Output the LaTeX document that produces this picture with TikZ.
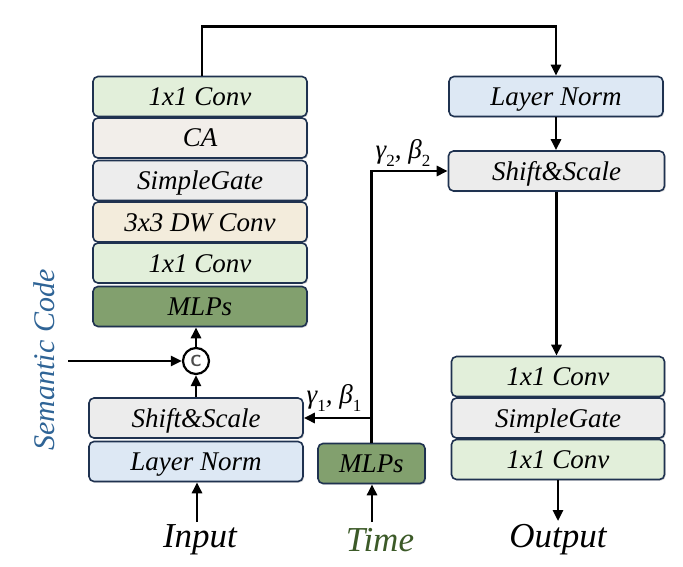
\documentclass[tikz,border=0pt]{standalone}
\usepackage{fontspec}
\setmainfont{Liberation Serif}
\usetikzlibrary{arrows.meta,shadows}
\definecolor{bordc}{HTML}{1F3250}
\definecolor{cgreen}{HTML}{E2EFDA}
\definecolor{cca}{HTML}{F2EEEA}
\definecolor{cgate}{HTML}{EDEDED}
\definecolor{cdw}{HTML}{F3ECDC}
\definecolor{cmlp}{HTML}{82A06E}
\definecolor{cln}{HTML}{DDE8F4}
\definecolor{css}{HTML}{ECECEC}
\definecolor{semblue}{HTML}{2F6496}
\definecolor{timegreen}{HTML}{3C5A28}
\newcommand{\gsub}[1]{\raisebox{-0.28em}{\fontsize{17}{17}\selectfont\upshape #1}}
\begin{document}
\begin{tikzpicture}[x=1pt,y=-1pt,
  blk/.style={draw=bordc, line width=1.6pt, rounded corners=5pt, minimum width=214pt, minimum height=40pt, inner sep=0pt,
    text height=18pt, text depth=0pt,
    font=\fontsize{27}{30}\selectfont\itshape,
    drop shadow={shadow xshift=1.2pt,shadow yshift=-1.2pt,opacity=0.25,fill=black!60}},
  conn/.style={line width=2.6pt, -{Triangle[length=11pt,width=10pt]}},
  biglbl/.style={font=\fontsize{35}{38}\selectfont\itshape},
  gblbl/.style={font=\fontsize{27}{29}\selectfont\itshape, inner sep=0pt}]
\useasboundingbox (0,0) rectangle (683,567);

% left stack
\node[blk, fill=cgreen] (c1) at (200,96.5) {1x1 Conv};
\node[blk, fill=cca] (ca) at (200,138) {CA};
\node[blk, fill=cgate] (sg1) at (200,180.5) {SimpleGate};
\node[blk, fill=cdw] (dw) at (200,222) {3x3 DW Conv};
\node[blk, fill=cgreen] (c2) at (200,263) {1x1 Conv};
\node[blk, fill=cmlp] (mlp) at (200,306.5) {MLPs};

\node[blk, fill=css] (ss1) at (196,418) {Shift\&Scale};
\node[blk, fill=cln] (ln1) at (196,461.5) {Layer Norm};

\node[blk, fill=cmlp, minimum width=107pt] (tmlp) at (371.5,463.5) {MLPs};

% right column
\node[blk, fill=cln] (ln2) at (556,96.5) {Layer Norm};
\node[blk, fill=css, minimum width=216pt] (ss2) at (556.5,171) {Shift\&Scale};
\node[blk, fill=cgreen, minimum width=213pt] (r1) at (558,376.5) {1x1 Conv};
\node[blk, fill=cgate, minimum width=213pt] (r2) at (558,418) {SimpleGate};
\node[blk, fill=cgreen, minimum width=213pt] (r3) at (558,459.5) {1x1 Conv};

% concat circle
\node[circle, draw, fill=white, line width=2.2pt, minimum size=26pt, inner sep=0pt,
  font=\sffamily\bfseries\fontsize{16}{16}\selectfont, text=black!70] (cc) at (196,361) {C};

% labels
\node[rotate=90, text=semblue, font=\fontsize{30}{32}\selectfont\itshape] (sem) at (44,360) {Semantic Code};
\node[biglbl] (inp) at (200,540) {Input};
\node[biglbl, text=timegreen] (tim) at (380,540) {Time};
\node[biglbl] (outp) at (558,540) {Output};
\node[gblbl] (g2) at (403,153) {γ\gsub{2}, β\gsub{2}};
\node[gblbl] (g1) at (334,398) {γ\gsub{1}, β\gsub{1}};

% coordinates
\coordinate (semst) at (68,361);
\coordinate (inst) at (197,522);
\coordinate (tist) at (372,522);
\coordinate (outend) at (558,521);

% connectors
\draw[conn] (semst) -- (cc.west);
\draw[conn] (ss1.north) -- (cc.south);
\draw[conn] (cc.north) -- (cc.north |- mlp.south);
\draw[conn] (inst) -- (inst |- ln1.south);
\draw[conn] (tist) -- (tist |- tmlp.south);
\draw[conn] (tmlp.north) |- (ss2.west);
\draw[conn] (tmlp.north |- ss1.east) -- (ss1.east);
\draw[conn] ([xshift=2pt]c1.north) -- ++(0,-49) -| (ln2.north);
\draw[conn] (ln2.south) -- (ln2.south |- ss2.north);
\draw[conn] (ss2.south) -- (ss2.south |- r1.north);
\draw[conn] (r3.south) -- (outend);
\end{tikzpicture}
\end{document}
